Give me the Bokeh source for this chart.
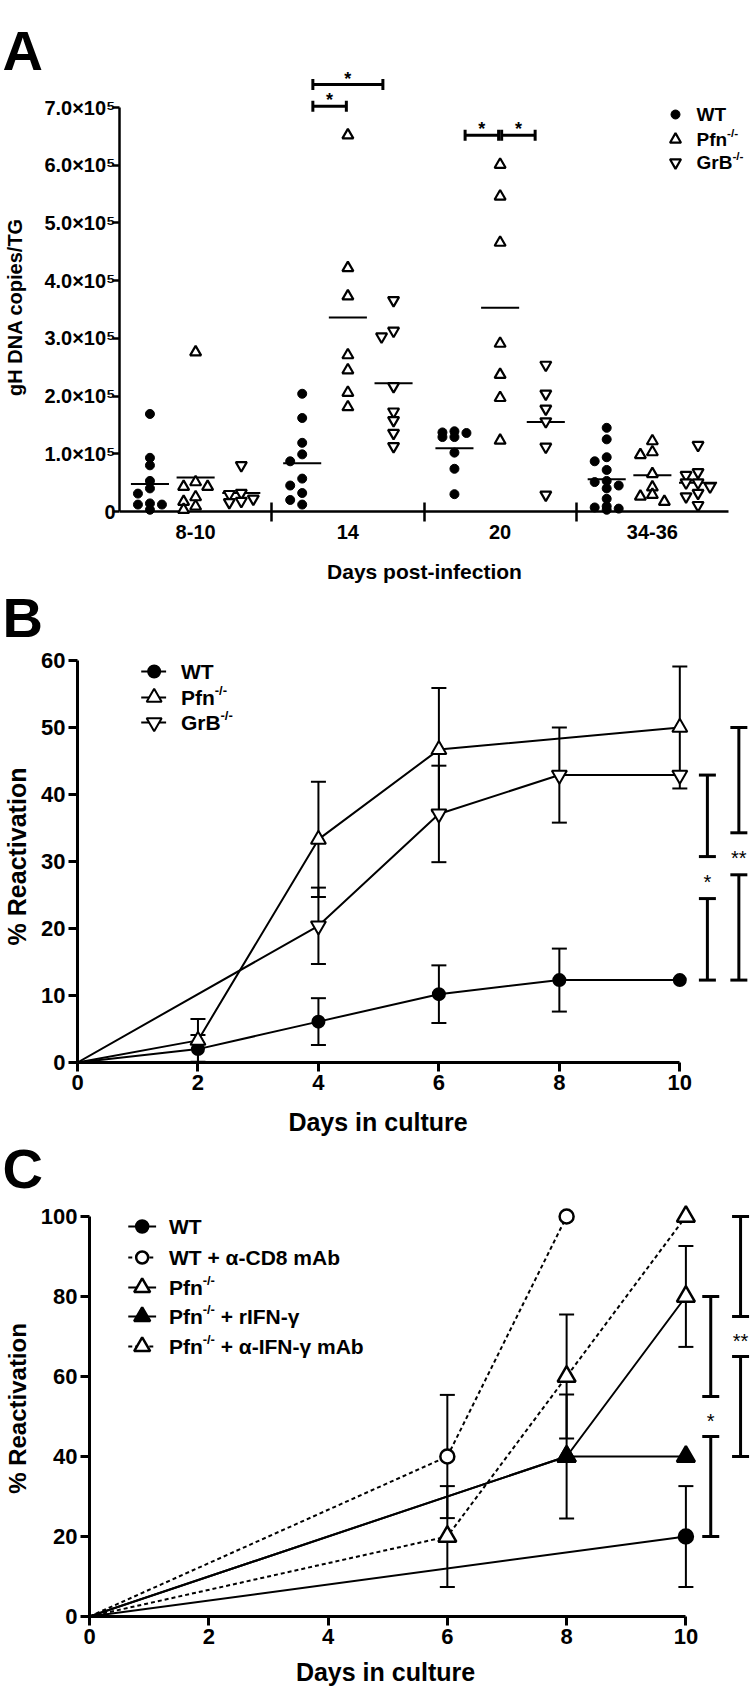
import math
from bokeh.plotting import figure
from bokeh.models import Range1d, FixedTicker, Label, Whisker, TeeHead, ColumnDataSource
from bokeh.embed import file_html
from bokeh.resources import INLINE

FONT = "Liberation Sans"

# ---------------- Panel A data (gH DNA copies / TG) ----------------
a_categories = ["8-10", "14", "20", "34-36"]
a_series = ["WT", "Pfn", "GrB"]
a_wt = [
    [169e3, 93e3, 80e3, 53e3, 40e3, 31e3, 14e3, 12e3, 12e3, 3e3],
    [204e3, 162e3, 119e3, 99e3, 87e3, 57e3, 45e3, 32e3, 20e3, 12e3],
    [139e3, 137e3, 136e3, 129e3, 129e3, 102e3, 74e3, 30e3],
    [145e3, 125e3, 94e3, 87e3, 72e3, 53e3, 51e3, 45e3, 40e3, 22e3, 9e3, 7e3, 5e3, 3e3],
]
a_pfn = [
    [276e3, 51e3, 43e3, 43e3, 25e3, 17e3, 9e3, 3e3],
    [652e3, 422e3, 373e3, 271e3, 245e3, 206e3, 181e3],
    [601e3, 546e3, 466e3, 291e3, 237e3, 197e3, 123e3],
    [122e3, 103e3, 98e3, 65e3, 42e3, 29e3, 26e3, 17e3],
]
a_grb = [
    [80e3, 32e3, 30e3, 22e3, 18e3, 16e3],
    [366e3, 313e3, 303e3, 217e3, 173e3, 158e3, 136e3, 113e3],
    [254e3, 204e3, 178e3, 156e3, 112e3, 29e3],
    [115e3, 68e3, 63e3, 50e3, 50e3, 43e3, 32e3, 26e3, 11e3],
]
a_wt_line = [47.7e3, 83.6e3, 109.6e3, 55.8e3]
a_pfn_line = [58.9e3, 336e3, 353e3, 63e3]
a_grb_line = [32e3, 222e3, 155e3, 49.6e3]
a_yticks = [0, 100000, 200000, 300000, 400000, 500000, 600000, 700000]
a_ytick_labels = ["0", "1.0×10⁵", "2.0×10⁵", "3.0×10⁵", "4.0×10⁵", "5.0×10⁵", "6.0×10⁵", "7.0×10⁵"]
# significance comparisons: (category, from, to, level, label)
a_sig = [("14", "WT", "Pfn", 702e3, "*"), ("14", "WT", "GrB", 740e3, "*"),
         ("20", "WT", "Pfn", 652e3, "*"), ("20", "Pfn", "GrB", 652e3, "*")]

# ---------------- Panel B data (% reactivation) ----------------
b_days_wt = [0, 2, 4, 6, 8, 10]
b_wt = [0, 2.0, 6.1, 10.2, 12.3, 12.3]
b_wt_sem = [0, 2.1, 3.5, 4.3, 4.7, 0]
b_days_pfn = [0, 2, 4, 6, 10]
b_pfn = [0, 3.3, 33.3, 46.7, 50.0]
b_pfn_sem = [0, 3.2, 8.6, 9.2, 9.1]
b_days_grb = [0, 4, 6, 8, 10]
b_grb = [0, 20.4, 37.1, 42.9, 42.9]
b_grb_sem = [0, 5.7, 7.2, 7.1, 0]

# ---------------- Panel C data (% reactivation) ----------------
c_days_wt = [0, 10]
c_wt = [0, 20]
c_wt_sem = [0, 12.6]
c_days_cd8 = [0, 6, 8]
c_cd8 = [0, 40, 100]
c_cd8_sem = [0, 15.4, 0]
c_days_pfn = [0, 8, 10]
c_pfn = [0, 40, 80]
c_pfn_sem = [0, 15.5, 12.6]
c_days_rifn = [0, 8, 10]
c_rifn = [0, 40, 40]
c_rifn_sem = [0, 0, 0]
c_days_aifn = [0, 6, 8, 10]
c_aifn = [0, 20, 60, 100]
c_aifn_sem = [0, 12.6, 15.5, 0]

# approximate Liberation Sans Bold advance widths (em)
W = {'P': 0.667, 'f': 0.333, 'n': 0.611, 'G': 0.778, 'r': 0.389, 'B': 0.722,
     '-': 0.333, '/': 0.278, 'W': 0.944, 'T': 0.611, ' ': 0.278, '+': 0.584}
STAR_RISE = 0.23   # asterisk centre above the "middle" anchor, in em


def text_w(s, fs):
    return sum(W.get(ch, 0.6) for ch in s) * fs


def base_fig(h, xr, yr, bl, br, bt, bb, axes=True):
    kw = {} if axes else dict(x_axis_location=None, y_axis_location=None)
    p = figure(width=750, height=h, x_range=xr, y_range=yr, output_backend="svg",
               toolbar_location=None, min_border_left=bl, min_border_right=br,
               min_border_top=bt, min_border_bottom=bb, **kw)
    p.grid.visible = False
    p.outline_line_color = None
    p.background_fill_color = "white"
    p.border_fill_color = "white"
    return p


def page_fig(y_top, y_bot):
    """Figure whose data coordinates are page pixels (x right, y down)."""
    return base_fig(y_bot - y_top, Range1d(0, 750), Range1d(y_bot, y_top), 0, 0, 0, 0, axes=False)


def style_axis(ax, fs, lw, tick_out, standoff, ticks, bounds=None):
    ax.ticker = FixedTicker(ticks=ticks)
    ax.axis_line_width = lw
    ax.axis_line_color = "black"
    ax.major_tick_line_width = lw
    ax.major_tick_line_color = "black"
    ax.major_tick_out = tick_out
    ax.major_tick_in = 0
    ax.minor_tick_line_color = None
    ax.major_label_text_font = FONT
    ax.major_label_text_font_style = "bold"
    ax.major_label_text_font_size = f"{fs}px"
    ax.major_label_text_color = "black"
    ax.major_label_standoff = standoff
    if bounds is not None:
        ax.bounds = bounds


def axis_title(ax, text, fs, standoff):
    ax.axis_label = text
    ax.axis_label_text_font = FONT
    ax.axis_label_text_font_style = "bold"
    ax.axis_label_text_font_size = f"{fs}px"
    ax.axis_label_text_color = "black"
    ax.axis_label_standoff = standoff


def add_text(p, x, y, text, fs, bold=True, align="left"):
    p.add_layout(Label(x=x, y=y, text=text, text_font=FONT,
                       text_font_style="bold" if bold else "normal",
                       text_font_size=f"{fs:.1f}px", text_align=align,
                       text_baseline="middle", text_color="black"))


def rich_text(p, x, y, parts, fs, dx, dy):
    """parts: list of (text, is_superscript); dx/dy: data units per px."""
    cur = 0.0
    for txt, sup in parts:
        size = fs * 0.62 if sup else fs
        lead = len(txt) - len(txt.lstrip(" "))
        cur += lead * W[' '] * size
        body = txt.lstrip(" ")
        yy = y + (fs * 0.32 * dy if sup else 0)
        add_text(p, x + cur * dx, yy, body, size)
        cur += text_w(body, size)


def whiskers(p, xs, ys, es, head, lw):
    b, u, l = [], [], []
    for x, y, e in zip(xs, ys, es):
        if e > 0:
            b.append(x); u.append(y + e); l.append(y - e)
    if not b:
        return
    src = ColumnDataSource(dict(base=b, upper=u, lower=l))
    p.add_layout(Whisker(source=src, base="base", upper="upper", lower="lower",
                         dimension="height", line_color="black", line_width=lw,
                         upper_head=TeeHead(size=head, line_width=lw, line_color="black"),
                         lower_head=TeeHead(size=head, line_width=lw, line_color="black")))


def bracket(p, xb, top, bottom, label, gap_px, ppu_y, fs):
    mid = (top + bottom) / 2
    g = gap_px / ppu_y
    src = ColumnDataSource(dict(base=[xb, xb], upper=[top, mid - g], lower=[mid + g, bottom]))
    p.add_layout(Whisker(source=src, base="base", upper="upper", lower="lower",
                         dimension="height", line_color="black", line_width=3,
                         upper_head=TeeHead(size=17, line_width=3, line_color="black"),
                         lower_head=TeeHead(size=17, line_width=3, line_color="black")))
    add_text(p, xb, mid - STAR_RISE * fs / ppu_y, label, fs, bold=False, align="center")


def swarm(vals, px_per_unit, step_px=12, min_dy_px=7.0):
    order = sorted(range(len(vals)), key=lambda i: -vals[i])
    placed = []
    offs = [0.0] * len(vals)
    for i in order:
        chosen = None
        best, best_d = 0, -1
        for k in (0, -1, 1):
            ds = [abs(vals[i] - pv) * px_per_unit for pk, pv in placed if pk == k]
            d = min(ds) if ds else 1e9
            if d >= min_dy_px:
                chosen = k
                break
            if d > best_d:
                best, best_d = k, d
        if chosen is None:
            chosen = best
        placed.append((chosen, vals[i]))
        offs[i] = chosen * step_px
    return offs


# page layout (px): header A 0-92 | A 92-551 | AB 551-650 | B 650-1100 | BC 1100-1200 | C 1200-1655 | foot 1655-1689
PXA = 152.25            # px per category
PYA = 404 / 7e5          # px per copy
A_LEFT, A_ZERO = 119, 511
A_SPLIT = 92

# ======================= Panel A header (letter + upper significance bar) =======================
hA = base_fig(A_SPLIT, Range1d(-A_LEFT / PXA, (750 - A_LEFT) / PXA),
              Range1d((A_ZERO - A_SPLIT) / PYA, A_ZERO / PYA), 0, 0, 0, 0, axes=False)
add_text(hA, (2 - A_LEFT) / PXA, (A_ZERO - 49.5) / PYA, "A", 56, align="left")

# ======================= Panel A main =======================
pA = base_fig(551 - A_SPLIT, Range1d(0, (750 - A_LEFT) / PXA),
              Range1d(-10 / PYA, (A_ZERO - A_SPLIT) / PYA), A_LEFT, 0, 0, 551 - (A_ZERO + 10))

style_axis(pA.yaxis[0], 20, 2.5, 7, -3, a_yticks, bounds=(0, 7e5))
pA.yaxis[0].major_label_overrides = {t: s for t, s in zip(a_yticks, a_ytick_labels)}
axis_title(pA.yaxis[0], "gH DNA copies/TG", 20, 15)
cat_pos = [i + 0.5 for i in range(len(a_categories))]
xa = pA.xaxis[0]
style_axis(xa, 20, 2.5, 0, 3, cat_pos)
xa.ticker = FixedTicker(ticks=cat_pos, minor_ticks=[1, 2, 3])
xa.major_label_overrides = {c: s for c, s in zip(cat_pos, a_categories)}
xa.axis_line_color = None
xa.major_tick_line_color = None
xa.minor_tick_line_color = "black"
xa.minor_tick_line_width = 2.5
xa.minor_tick_in = 19
xa.minor_tick_out = 0
# zero line of the category axis
pA.segment(x0=[0], x1=[len(a_categories)], y0=[0], y1=[0], line_color="black", line_width=2.5)

a_style = {"WT": ("circle", 9, "black", 1.0),
           "Pfn": ("triangle", 11, "white", 2.2),
           "GrB": ("inverted_triangle", 11, "white", 2.2)}
a_sub = {"WT": -0.3, "Pfn": 0.0, "GrB": 0.3}
for name, data, lines in zip(a_series, [a_wt, a_pfn, a_grb], [a_wt_line, a_pfn_line, a_grb_line]):
    mk, sz, fc, lw = a_style[name]
    xs, ys = [], []
    for gi, vals in enumerate(data):
        c = cat_pos[gi] + a_sub[name]
        offs = swarm(vals, PYA)
        xs += [c + o / PXA for o in offs]
        ys += vals
    centers = [c + a_sub[name] for c in cat_pos]
    pA.segment(x0=[c - 0.125 for c in centers], x1=[c + 0.125 for c in centers],
               y0=lines, y1=lines, line_color="black", line_width=2)
    pA.scatter(x=xs, y=ys, marker=mk, size=sz, fill_color=fc, line_color="black", line_width=lw)


def a_end(s, side):
    if s == "WT":
        return -0.23
    if s == "GrB":
        return 0.23
    return -0.01 if side == "right" else 0.01


STAR_FS_A = 18
for cat, s0, s1, lvl, lab in a_sig:
    target = hA if (A_ZERO - lvl * PYA) < A_SPLIT else pA
    c = cat_pos[a_categories.index(cat)]
    x0 = c + a_end(s0, "left")
    x1 = c + a_end(s1, "right")
    src = ColumnDataSource(dict(base=[lvl], lower=[x0], upper=[x1]))
    target.add_layout(Whisker(source=src, base="base", lower="lower", upper="upper", dimension="width",
                              line_color="black", line_width=3,
                              upper_head=TeeHead(size=11, line_width=3, line_color="black"),
                              lower_head=TeeHead(size=11, line_width=3, line_color="black")))
    add_text(target, (x0 + x1) / 2, lvl + (10 - STAR_RISE * STAR_FS_A) / PYA, lab, STAR_FS_A,
             bold=True, align="center")

a_leg_y = [(A_ZERO - 114) / PYA, (A_ZERO - 139) / PYA, (A_ZERO - 162) / PYA]
a_leg_parts = [[("WT", False)], [("Pfn", False), ("-/-", True)], [("GrB", False), ("-/-", True)]]
for name, ly, parts in zip(a_series, a_leg_y, a_leg_parts):
    mk, sz, fc, lw = a_style[name]
    pA.scatter(x=[(675 - A_LEFT) / PXA], y=[ly], marker=mk, size=sz, fill_color=fc,
               line_color="black", line_width=lw)
    rich_text(pA, (696 - A_LEFT) / PXA, ly, parts, 19, 1 / PXA, 1 / PYA)

# ======================= connector A/B: x title of A + letter B =======================
cAB = page_fig(551, 650)
add_text(cAB, 424, 571, "Days post-infection", 21, align="center")
add_text(cAB, 2, 616.5, "B", 56, align="left")

# ======================= Panel B main =======================
PXB = 60.5
PYB = 6.7
B_LEFT, B_ZERO, B_TOP, B_END = 74, 1062, 650, 1100
pB = base_fig(B_END - B_TOP, Range1d(0, (750 - B_LEFT) / PXB), Range1d(0, (B_ZERO - B_TOP) / PYB),
              B_LEFT, 0, 0, B_END - B_ZERO)
style_axis(pB.xaxis[0], 22, 3, 9, 3, [0, 2, 4, 6, 8, 10], bounds=(0, 10))
style_axis(pB.yaxis[0], 22, 3, 9, 3, [0, 10, 20, 30, 40, 50, 60], bounds=(0, 60))
axis_title(pB.yaxis[0], "% Reactivation", 25, 7)

b_sets = [
    ("WT", b_days_wt, b_wt, b_wt_sem, "circle", 12, "black"),
    ("Pfn", b_days_pfn, b_pfn, b_pfn_sem, "triangle", 15, "white"),
    ("GrB", b_days_grb, b_grb, b_grb_sem, "inverted_triangle", 15, "white"),
]
for name, d, v, e, mk, sz, fc in b_sets:
    pB.line(d, v, line_color="black", line_width=2)
    whiskers(pB, d, v, e, 15, 2)
for name, d, v, e, mk, sz, fc in b_sets:
    pts = [(x, y) for x, y in zip(d, v) if x > 0]
    pB.scatter(x=[x for x, _ in pts], y=[y for _, y in pts], marker=mk, size=sz,
               fill_color=fc, line_color="black", line_width=2)

bracket(pB, (706.7 - B_LEFT) / PXB, b_grb[b_days_grb.index(10)], b_wt[b_days_wt.index(10)], "*", 21, PYB, 20)
bracket(pB, (738.3 - B_LEFT) / PXB, b_pfn[b_days_pfn.index(10)], b_wt[b_days_wt.index(10)], "**", 21, PYB, 20)

b_leg_y = [(B_ZERO - 671) / PYB, (B_ZERO - 697) / PYB, (B_ZERO - 722) / PYB]
b_leg_parts = [[("WT", False)], [("Pfn", False), ("-/-", True)], [("GrB", False), ("-/-", True)]]
for (name, d, v, e, mk, sz, fc), ly, parts in zip(b_sets, b_leg_y, b_leg_parts):
    pB.line([(138 - B_LEFT) / PXB, (163 - B_LEFT) / PXB], [ly, ly], line_color="black", line_width=2)
    pB.scatter(x=[(151 - B_LEFT) / PXB], y=[ly], marker=mk, size=sz, fill_color=fc,
               line_color="black", line_width=2)
    rich_text(pB, (178 - B_LEFT) / PXB, ly, parts, 21, 1 / PXB, 1 / PYB)

# ======================= connector B/C: x title of B + letter C =======================
cBC = page_fig(1100, 1200)
add_text(cBC, 377.5, 1121, "Days in culture", 25, align="center")
add_text(cBC, 2, 1168, "C", 56, align="left")

# ======================= Panel C main =======================
PXC = 60.0
PYC = 4.0
C_LEFT, C_ZERO, C_TOP, C_END = 85, 1616, 1200, 1655
pC = base_fig(C_END - C_TOP, Range1d(0, (750 - C_LEFT) / PXC), Range1d(0, (C_ZERO - C_TOP) / PYC),
              C_LEFT, 0, 0, C_END - C_ZERO)
style_axis(pC.xaxis[0], 22, 3, 9, 3, [0, 2, 4, 6, 8, 10], bounds=(0, 10))
style_axis(pC.yaxis[0], 22, 3, 9, 3, [0, 20, 40, 60, 80, 100], bounds=(0, 100))
axis_title(pC.yaxis[0], "% Reactivation", 24, 7)

c_sets = [
    ("WT", c_days_wt, c_wt, c_wt_sem, "circle", 14, "black", "solid"),
    ("WT + α-CD8 mAb", c_days_cd8, c_cd8, c_cd8_sem, "circle", 14, "white", "4 3"),
    ("Pfn", c_days_pfn, c_pfn, c_pfn_sem, "triangle", 18, "white", "solid"),
    ("Pfn + rIFN-γ", c_days_rifn, c_rifn, c_rifn_sem, "triangle", 18, "black", "solid"),
    ("Pfn + α-IFN-γ mAb", c_days_aifn, c_aifn, c_aifn_sem, "triangle", 18, "white", "4 3"),
]
for name, d, v, e, mk, sz, fc, dash in c_sets:
    pC.line(d, v, line_color="black", line_width=2, line_dash=dash)
    whiskers(pC, d, v, e, 15, 2)
for name, d, v, e, mk, sz, fc, dash in c_sets:
    pts = [(x, y) for x, y in zip(d, v) if x > 0]
    pC.scatter(x=[x for x, _ in pts], y=[y for _, y in pts], marker=mk, size=sz,
               fill_color=fc, line_color="black", line_width=2.5)

bracket(pC, (710 - C_LEFT) / PXC, c_pfn[c_days_pfn.index(10)], c_wt[c_days_wt.index(10)], "*", 20, PYC, 20)
bracket(pC, (740 - C_LEFT) / PXC, c_aifn[c_days_aifn.index(10)], c_rifn[c_days_rifn.index(10)], "**", 20, PYC, 20)

c_leg_y = [(C_ZERO - y) / PYC for y in (1226, 1257, 1287, 1316, 1346)]
c_leg_parts = [
    [("WT", False)],
    [("WT + α-CD8 mAb", False)],
    [("Pfn", False), ("-/-", True)],
    [("Pfn", False), ("-/-", True), (" + rIFN-γ", False)],
    [("Pfn", False), ("-/-", True), (" + α-IFN-γ mAb", False)],
]
for (name, d, v, e, mk, sz, fc, dash), ly, parts in zip(c_sets, c_leg_y, c_leg_parts):
    pC.line([(124 - C_LEFT) / PXC, (152 - C_LEFT) / PXC], [ly, ly], line_color="black", line_width=2,
            line_dash=dash)
    pC.scatter(x=[(138 - C_LEFT) / PXC], y=[ly], marker=mk, size=sz - 2, fill_color=fc,
               line_color="black", line_width=2.5)
    rich_text(pC, (165 - C_LEFT) / PXC, ly, parts, 21, 1 / PXC, 1 / PYC)

# ======================= footer: x title of C =======================
fC = page_fig(1655, 1689)
add_text(fC, 385, 1671, "Days in culture", 25, align="center")

open("out.html", "w").write(file_html([hA, pA, cAB, pB, cBC, pC, fC], INLINE))
